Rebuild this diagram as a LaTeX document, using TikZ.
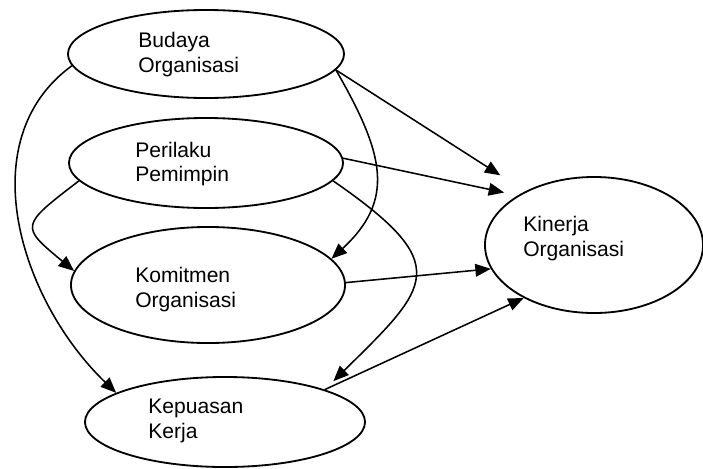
\documentclass[tikz,border=0pt]{standalone}
\usepackage{fontspec}
\setmainfont{Liberation Sans}
\usetikzlibrary{shapes.geometric, arrows.meta}

\begin{document}
\begin{tikzpicture}[x=0.025cm, y=-0.025cm,
    var/.style={draw, ellipse, line width=1.3pt, inner sep=0pt},
    lbl/.style={anchor=west, align=left, inner sep=0pt, font=\fontsize{15}{17.7}\selectfont},
    arr/.style={line width=1.1pt, -{Triangle[length=11pt, width=9pt]}}]

\useasboundingbox (0,0) rectangle (703,468);

% Variables
\node[var, minimum width=6.9cm, minimum height=2.2cm] (budaya) at (206,54) {};
\node[var, minimum width=6.85cm, minimum height=2.25cm] (perilaku) at (206,163) {};
\node[var, minimum width=6.85cm, minimum height=2.9cm] (komitmen) at (208,285) {};
\node[var, minimum width=7cm, minimum height=2.25cm] (kepuasan) at (225,422) {};
\node[var, minimum width=5.45cm, minimum height=3.4cm] (kinerja) at (594,245) {};

% Labels
\node[lbl] (budaya_txt) at (138,54.5) {Budaya\\Organisasi};
\node[lbl] (perilaku_txt) at (135,164) {Perilaku\\Pemimpin};
\node[lbl] (komitmen_txt) at (135,289.5) {Komitmen\\Organisasi};
\node[lbl] (kepuasan_txt) at (148,421) {Kepuasan\\Kerja};
\node[lbl] (kinerja_txt) at (523,238.5) {Kinerja\\Organisasi};

% Straight paths to Kinerja
\draw[arr, shorten >=21pt] (budaya.-7.5) -- (kinerja.142);
\draw[arr, shorten >=9.8pt] (perilaku.2) -- (kinerja.147);
\draw[arr] (komitmen.1) -- (kinerja.193);
\draw[arr] (kepuasan.18) -- (kinerja.217);

% Curved paths on the right
\draw[arr] (budaya.-7.5) .. controls (385,155) and (395,200) .. (komitmen.12);
\draw[arr, shorten >=8.5pt] (perilaku.-8) .. controls (455,265) and (430,286) .. (kepuasan.18);

% Curved paths on the left
\draw[arr] (budaya.185) .. controls (-30,140) and (20,300) .. (kepuasan.165);
\draw[arr] (perilaku.188) .. controls (20,226) .. (komitmen.174);

\end{tikzpicture}
\end{document}
